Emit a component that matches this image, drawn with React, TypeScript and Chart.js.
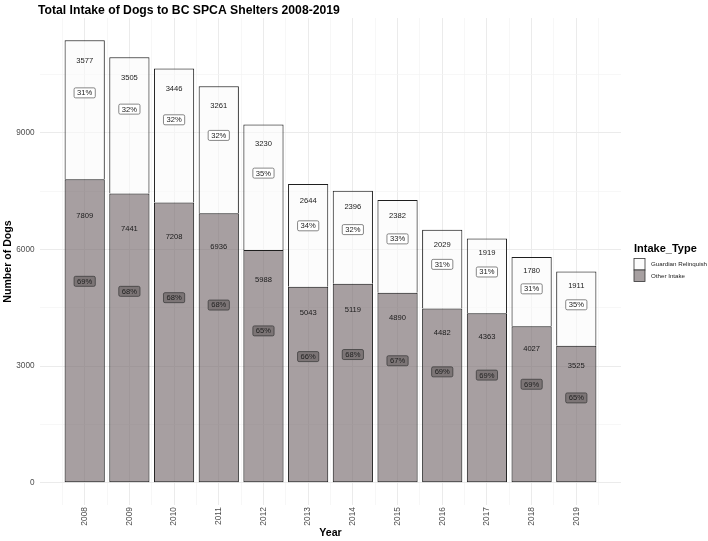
import React, { useEffect, useRef } from "react";
import { Chart, registerables } from "chart.js";

Chart.register(...registerables);

const YEARS = [2008, 2009, 2010, 2011, 2012, 2013, 2014, 2015, 2016, 2017, 2018, 2019];
const GUARDIAN = [3577, 3505, 3446, 3261, 3230, 2644, 2396, 2382, 2029, 1919, 1780, 1911];
const OTHER = [7809, 7441, 7208, 6936, 5988, 5043, 5119, 4890, 4482, 4363, 4027, 3525];
const GUARDIAN_PCT = [31, 32, 32, 32, 35, 34, 32, 33, 31, 31, 31, 35];
const OTHER_PCT = [69, 68, 68, 68, 65, 66, 68, 67, 69, 69, 69, 65];
const Y_TICKS = [0, 1500, 3000, 4500, 6000, 7500, 9000, 10500];
const Y_LABEL_STEP = 3000;

const FONT = "'Liberation Sans', Arial, Helvetica, sans-serif";
const OTHER_FILL = "rgba(120, 108, 110, 0.65)";
const GUARDIAN_FILL = "rgba(250, 250, 250, 0.6)";
const BAR_BORDER = "#1e1e1e";
// ticks sit every half year, so the bar ruler is half a year wide
const BAR_PCT = 1.8;

const labelsPlugin = {
  id: "ggLabels",
  afterDraw(chart: Chart) {
    const { ctx, chartArea } = chart;
    const xs = chart.scales.x;
    const ys = chart.scales.y;
    ctx.save();

    // bar labels: counts and percentages
    YEARS.forEach((year, i) => {
      const x = xs.getPixelForValue(year);
      const o = OTHER[i];
      const g = GUARDIAN[i];

      ctx.font = `7.6px ${FONT}`;
      ctx.textAlign = "center";
      ctx.textBaseline = "middle";
      ctx.fillStyle = "#1a1a1a";
      ctx.fillText(String(g), x, ys.getPixelForValue(o + 0.9 * g) + 7);
      ctx.fillText(String(o), x, ys.getPixelForValue(0.9 * o) + 6.5);

      const drawBox = (text: string, cy: number, fill: string, stroke: string) => {
        ctx.font = `7.6px ${FONT}`;
        const w = ctx.measureText(text).width + 6;
        const h = 10;
        ctx.beginPath();
        ctx.roundRect(x - w / 2, cy - h / 2, w, h, 1.5);
        ctx.fillStyle = fill;
        ctx.fill();
        ctx.lineWidth = 0.7;
        ctx.strokeStyle = stroke;
        ctx.stroke();
        ctx.fillStyle = "#222";
        ctx.fillText(text, x, cy + 0.3);
      };
      drawBox(`${GUARDIAN_PCT[i]}%`, ys.getPixelForValue(o + 0.7 * g) + 11, "#ffffff", "#555");
      drawBox(`${OTHER_PCT[i]}%`, ys.getPixelForValue(0.7 * o) + 11, "rgba(118, 110, 112, 0.85)", "#333");
    });

    // title
    ctx.fillStyle = "#000";
    ctx.textAlign = "left";
    ctx.textBaseline = "alphabetic";
    ctx.font = `bold 12.2px ${FONT}`;
    ctx.fillText("Total Intake of Dogs to BC SPCA Shelters 2008-2019", 38, 13.5);

    // axis titles
    ctx.font = `bold 10.6px ${FONT}`;
    ctx.textAlign = "center";
    ctx.textBaseline = "middle";
    ctx.fillText("Year", (chartArea.left + chartArea.right) / 2, 533);
    ctx.save();
    ctx.translate(8.5, (chartArea.top + chartArea.bottom) / 2);
    ctx.rotate(-Math.PI / 2);
    ctx.fillText("Number of Dogs", 0, 0);
    ctx.restore();

    // legend
    ctx.textAlign = "left";
    ctx.font = `bold 11px ${FONT}`;
    ctx.fillText("Intake_Type", 634, 249);
    const keys = [
      { label: "Guardian Relinquish", fill: "#fcfcfc" },
      { label: "Other Intake", fill: "#a7a0a1" },
    ];
    keys.forEach((k, i) => {
      const top = 258.5 + i * 11.5;
      ctx.fillStyle = k.fill;
      ctx.fillRect(634, top, 11, 11.5);
      ctx.strokeStyle = "#333";
      ctx.lineWidth = 0.8;
      ctx.strokeRect(634, top, 11, 11.5);
      ctx.fillStyle = "#1a1a1a";
      ctx.font = `6.2px ${FONT}`;
      ctx.fillText(k.label, 651, top + 6);
    });

    ctx.restore();
  },
};

const App: React.FC = () => {
  const canvasRef = useRef<HTMLCanvasElement>(null);
  const chartRef = useRef<Chart | null>(null);

  useEffect(() => {
    if (!canvasRef.current) return;
    if (chartRef.current) {
      chartRef.current.destroy();
      chartRef.current = null;
    }

    const totals = YEARS.map((_, i) => OTHER[i] + GUARDIAN[i]);
    const maxTotal = Math.max(...totals);

    chartRef.current = new Chart(canvasRef.current, {
      type: "bar",
      data: {
        datasets: [
          {
            label: "Other Intake",
            data: YEARS.map((y, i) => ({ x: y, y: OTHER[i] })),
            backgroundColor: OTHER_FILL,
            borderColor: BAR_BORDER,
            borderWidth: 1,
            borderSkipped: false,
            barPercentage: BAR_PCT,
            categoryPercentage: 1,
          },
          {
            label: "Guardian Relinquish",
            data: YEARS.map((y, i) => ({ x: y, y: GUARDIAN[i] })),
            backgroundColor: GUARDIAN_FILL,
            borderColor: BAR_BORDER,
            borderWidth: 1,
            borderSkipped: "bottom",
            barPercentage: BAR_PCT,
            categoryPercentage: 1,
          },
        ],
      },
      options: {
        responsive: true,
        maintainAspectRatio: false,
        animation: false,
        layout: { padding: { left: 0, right: 87, top: 18, bottom: 0 } },
        plugins: {
          legend: { display: false },
          tooltip: { enabled: false },
          title: { display: false },
        },
        scales: {
          x: {
            type: "linear",
            stacked: true,
            offset: false,
            min: YEARS[0] - 1,
            max: YEARS[YEARS.length - 1] + 1,
            afterBuildTicks: (scale: any) => {
              const vals: number[] = [];
              YEARS.forEach((y) => vals.push(y - 0.5, y));
              vals.push(YEARS[YEARS.length - 1] + 0.5);
              scale.ticks = vals.map((v) => ({ value: v }));
            },
            afterFit: (scale: any) => {
              scale.height = 36;
            },
            border: { display: false },
            grid: {
              offset: false,
              drawTicks: false,
              color: (c: any) =>
                c.tick && Number.isInteger(c.tick.value) ? "#ebebeb" : "#f4f4f4",
              lineWidth: (c: any) => (c.tick && Number.isInteger(c.tick.value) ? 1 : 0.7),
            },
            ticks: {
              autoSkip: false,
              minRotation: 90,
              maxRotation: 90,
              padding: 2,
              color: "#4d4d4d",
              font: { family: FONT, size: 8.4 },
              callback: (v: any) => (YEARS.includes(v) ? String(v) : ""),
            },
          },
          y: {
            stacked: true,
            min: -0.05 * maxTotal,
            max: 1.05 * maxTotal,
            afterBuildTicks: (scale: any) => {
              scale.ticks = Y_TICKS.map((v) => ({ value: v }));
            },
            afterFit: (scale: any) => {
              scale.width = 40;
            },
            border: { display: false },
            grid: {
              drawTicks: false,
              color: (c: any) =>
                c.tick && c.tick.value % Y_LABEL_STEP === 0 ? "#ebebeb" : "#f4f4f4",
              lineWidth: (c: any) => (c.tick && c.tick.value % Y_LABEL_STEP === 0 ? 1 : 0.7),
            },
            ticks: {
              padding: 5.5,
              color: "#4d4d4d",
              font: { family: FONT, size: 8.2 },
              callback: (v: any) => (v % Y_LABEL_STEP === 0 ? String(v) : ""),
            },
          },
        },
      },
      plugins: [labelsPlugin],
    });

    return () => {
      if (chartRef.current) {
        chartRef.current.destroy();
        chartRef.current = null;
      }
    };
  }, []);

  return (
    <div
      style={{
        position: "absolute",
        left: 0,
        top: 0,
        width: "708px",
        height: "541px",
        background: "#ffffff",
      }}
    >
      <canvas ref={canvasRef}></canvas>
    </div>
  );
};

export default App;
